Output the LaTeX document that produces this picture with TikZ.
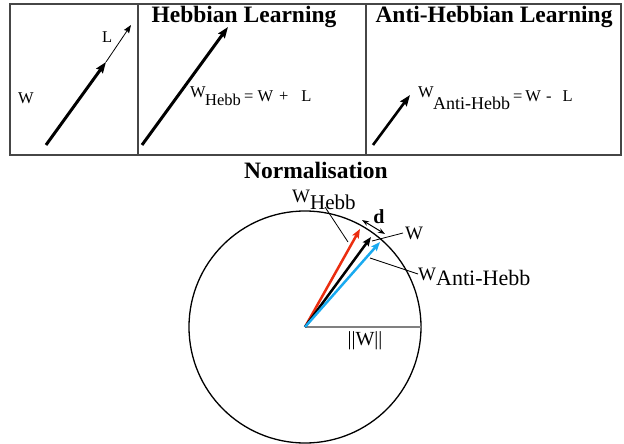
\documentclass[tikz,border=0pt]{standalone}
\usepackage{fontspec}
\setmainfont{Liberation Serif}
\usetikzlibrary{arrows.meta}
\definecolor{hebbred}{RGB}{235,45,15}
\definecolor{antiblue}{RGB}{25,170,240}
\definecolor{framegray}{RGB}{70,70,70}
\begin{document}
\begin{tikzpicture}[x=1pt,y=-1pt,
  frame/.style={draw=framegray,line width=1.3pt},
  bigvec/.style={line width=3pt,-{Stealth[length=11pt,width=8pt,inset=1.5pt]}},
  thinvec/.style={line width=0.8pt,-{Stealth[length=8pt,width=6pt,inset=1pt]}},
  cvec/.style={line width=2.5pt,-{Stealth[length=9pt,width=7pt,inset=1.5pt]}},
  leader/.style={line width=0.8pt},
  txt/.style={inner sep=0pt,anchor=base west,font=\fontsize{16.5}{19}\selectfont},
  ctxt/.style={inner sep=0pt,anchor=base west,font=\fontsize{19}{22}\selectfont},
  title/.style={inner sep=0pt,anchor=base,font=\bfseries\fontsize{23.5}{27}\selectfont}]
\useasboundingbox (0,0) rectangle (624,444);
% frame of the three panels
\draw[frame] (10,4) rectangle (621,155);
\draw[frame] (138,4) -- (138,155);
\draw[frame] (366,4) -- (366,155);
% panel 1
\coordinate (w1a) at (46,145);
\coordinate (w1b) at (106,62);
\coordinate (l1b) at (131,25);
\draw[bigvec] (w1a) -- (w1b);
\draw[thinvec] (w1b) -- (l1b);
\node[txt] (lblL) at (102,43) {L};
\node[txt] (lblW) at (18,103) {W};
% panel 2
\node[title] (t2) at (244,23) {Hebbian Learning};
\coordinate (w2a) at (142,145);
\coordinate (w2b) at (228,27);
\draw[bigvec] (w2a) -- (w2b);
\node[txt] (f2w) at (190,98) {W};
\node[txt] (f2s) at (205,105) {Hebb};
\node[txt] (f2r) at (244,101) {=\hspace{4pt}W\hspace{6pt}+\hspace{13pt}L};
% panel 3
\node[title] (t3) at (494,23) {Anti-Hebbian Learning};
\coordinate (w3a) at (373,145);
\coordinate (w3b) at (410,95);
\draw[bigvec,line width=2.6pt] (w3a) -- (w3b);
\node[txt] (f3w) at (418,98) {W};
\node[txt,font=\fontsize{18}{21}\selectfont] (f3s) at (433,109) {Anti-Hebb};
\node[txt] (f3r) at (513,102) {=\hspace{3pt}W\hspace{5pt}-\hspace{11pt}L};
% normalisation
\node[title] (tn) at (316,178) {Normalisation};
\coordinate (O) at (305,327);
\draw[line width=1.3pt] (O) circle[radius=116];
\coordinate (R) at (421,327);
\draw[line width=1.5pt,draw=gray] (O) -- (R);
\node[inner sep=0pt,anchor=north,font=\fontsize{20}{22}\selectfont] (norm) at (365,331) {||W||};
\coordinate (hebbtip) at (360,229);
\coordinate (wtip) at (371,237);
\coordinate (antitip) at (380,242);
\draw[cvec,draw=hebbred,fill=hebbred] (O) -- (hebbtip);
\draw[cvec,draw=black] (O) -- (wtip);
\draw[cvec,draw=antiblue,fill=antiblue] (O) -- (antitip);
% d
\coordinate (da) at (362,220);
\coordinate (db) at (385,234);
\draw[line width=1pt,{Stealth[length=7pt,width=5pt]}-{Stealth[length=7pt,width=5pt]}] (da) -- (db);
\node[inner sep=0pt,anchor=base,font=\bfseries\fontsize{20}{22}\selectfont] (dl) at (379,223) {d};
% labels with leaders
\node[ctxt] (lh) at (292,202) {W};
\node[ctxt,font=\fontsize{21}{24}\selectfont] (lhs) at (310,209) {Hebb};
\coordinate (lh1) at (325,207);
\coordinate (lh2) at (348,242);
\draw[leader] (lh1) -- (lh2);
\node[ctxt] (lw) at (405,239) {W};
\coordinate (lw1) at (372,241);
\coordinate (lw2) at (403,233);
\draw[leader] (lw1) -- (lw2);
\node[ctxt] (la) at (418,280) {W};
\node[ctxt,font=\fontsize{22}{25}\selectfont] (las) at (436,285) {Anti-Hebb};
\coordinate (la1) at (370,258);
\coordinate (la2) at (418,274);
\draw[leader] (la1) -- (la2);
\end{tikzpicture}
\end{document}
